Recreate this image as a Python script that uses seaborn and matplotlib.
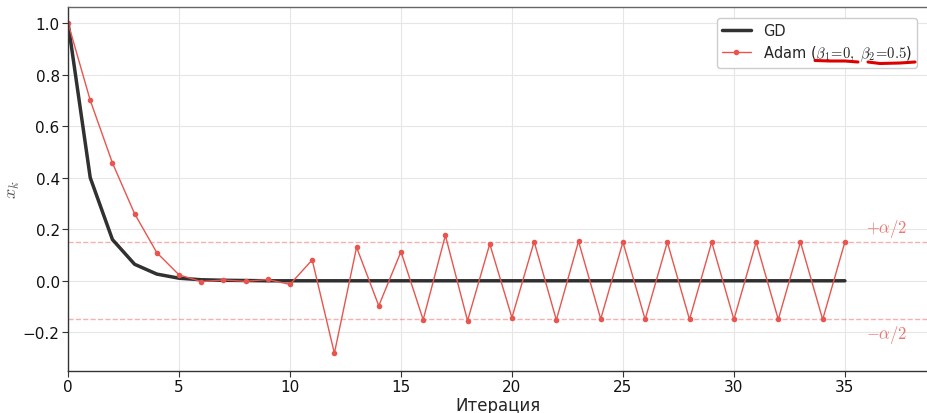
import numpy as np
import pandas as pd
import matplotlib
matplotlib.use("Agg")
import matplotlib.pyplot as plt
import seaborn as sns
from matplotlib.lines import Line2D

# Iterates of plain gradient descent and Adam on a 1-D quadratic
iterations = list(range(36))
gd_values = [1.0, 0.40, 0.16, 0.064, 0.026, 0.010, 0.004, 0.002, 0.001, 0.0,
             0.0, 0.0, 0.0, 0.0, 0.0, 0.0, 0.0, 0.0, 0.0, 0.0,
             0.0, 0.0, 0.0, 0.0, 0.0, 0.0, 0.0, 0.0, 0.0, 0.0,
             0.0, 0.0, 0.0, 0.0, 0.0, 0.0]
adam_values = [1.0, 0.70, 0.457, 0.26, 0.109, 0.023, -0.003, 0.003, -0.002, 0.005,
               -0.014, 0.081, -0.281, 0.13, -0.097, 0.113, -0.151, 0.176, -0.155, 0.143,
               -0.143, 0.152, -0.152, 0.153, -0.148, 0.15, -0.15, 0.15, -0.15, 0.15,
               -0.15, 0.15, -0.15, 0.15, -0.15, 0.15]
alpha_step = 0.3

df = pd.DataFrame({"k": iterations, "GD": gd_values, "Adam": adam_values})

sns.set_theme(style="whitegrid")
plt.rcParams["font.family"] = ["DejaVu Sans"]
plt.rcParams["mathtext.fontset"] = "cm"

fig = plt.figure(figsize=(9.27, 4.14), dpi=100)
ax = fig.add_axes([0.0734, 0.1014, 0.9266, 0.8793])

red = "#e8554e"
sns.lineplot(data=df, x="k", y="GD", ax=ax, color="#1a1a1a", linewidth=2.5,
             alpha=0.9, label="GD")
sns.lineplot(data=df, x="k", y="Adam", ax=ax, color=red, linewidth=1.0,
             marker="o", markersize=4, markeredgewidth=0,
             label=r"Adam ($\beta_1\!=\!0,\ \beta_2\!=\!0.5$)")

ax.axhline(alpha_step / 2, color=red, linestyle="--", linewidth=1.0, alpha=0.45, zorder=1)
ax.axhline(-alpha_step / 2, color=red, linestyle="--", linewidth=1.0, alpha=0.45, zorder=1)
ax.text(36.9, alpha_step / 2 + 0.012, r"$+\alpha/2$", color=red, alpha=0.8,
        fontsize=12, ha="center", va="bottom")
ax.text(36.9, -alpha_step / 2 - 0.012, r"$-\alpha/2$", color=red, alpha=0.8,
        fontsize=12, ha="center", va="top")

ax.set_xlim(0, 38.7)
ax.set_ylim(-0.35, 1.062)
ax.set_xticks([0, 5, 10, 15, 20, 25, 30, 35])
ax.set_yticks([-0.2, 0.0, 0.2, 0.4, 0.6, 0.8, 1.0])
ax.set_xlabel("Итерация", fontsize=12, labelpad=1)
ax.set_ylabel(r"$x_k$", fontsize=13, color="#555555")
ax.yaxis.set_label_coords(-0.054, 0.5)
ax.tick_params(axis="both", labelsize=11, length=4, width=0.8, color="#333333",
               labelcolor="#111111", left=True, bottom=True, pad=2)
ax.grid(True, color="#e6e6e6", linewidth=0.8)

for side in ["left", "bottom", "top"]:
    ax.spines[side].set_visible(True)
    ax.spines[side].set_color("#333333")
    ax.spines[side].set_linewidth(1.0)
ax.spines["top"].set_color("#666666")
ax.spines["right"].set_visible(False)

leg = ax.legend(loc="upper right", fontsize=10.5, frameon=True, framealpha=1.0,
                borderpad=0.35, handlelength=2.0, labelspacing=0.35,
                bbox_to_anchor=(0.9965, 0.99))
leg.get_frame().set_edgecolor("#cccccc")

# hand-drawn red underline strokes beneath the Adam parameters
for xs, ys in [([815, 830, 845, 858], [61.5, 62.0, 62.0, 63.0]),
               ([868, 880, 900, 915], [63.0, 64.5, 64.0, 63.0])]:
    fig.add_artist(Line2D([x / 927 for x in xs], [1 - y / 414 for y in ys],
                          color="#dd0000", linewidth=2.2, solid_capstyle="round"))

fig.savefig("out.png", dpi=100)
